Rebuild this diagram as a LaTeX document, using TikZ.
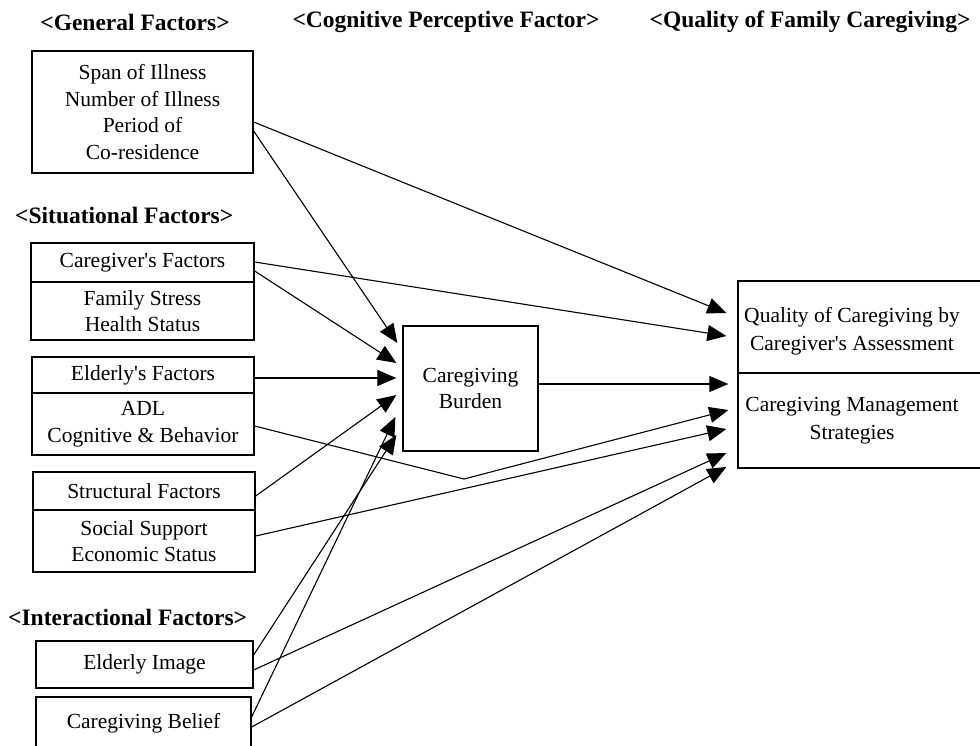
\documentclass[tikz,border=0pt]{standalone}
\usepackage{fontspec}
\setmainfont{Liberation Serif}
\usetikzlibrary{arrows.meta,calc}
\begin{document}
\begin{tikzpicture}[x=1pt,y=-1pt,
  box/.style={draw, line width=1.3pt, rectangle, inner sep=0pt, align=center, font=\fontsize{21.5}{26.7}\selectfont},
  plainbox/.style={draw, line width=1.3pt, rectangle, inner sep=0pt},
  lbl/.style={font=\fontsize{21.5}{28}\selectfont, align=center, inner sep=0pt},
  hdr/.style={font=\bfseries\fontsize{23.5}{26}\selectfont, inner sep=0pt},
  arr/.style={line width=1.1pt, -{Triangle[length=19pt,width=16pt]}}]
\fill[white] (0,0) rectangle (980,745);
\useasboundingbox (0,0) rectangle (980,745);

% headers
\node[hdr] (h1) at (135,22) {<General Factors>};
\node[hdr] (h2) at (446,22) {<Cognitive Perceptive Factor>};
\node[hdr] (h3) at (810,22) {<Quality of Family Caregiving>};
\node[hdr, anchor=west] (h4) at (15,215) {<Situational Factors>};
\node[hdr, anchor=west] (h5) at (8,617) {<Interactional Factors>};

% left boxes
\node[box, minimum width=221pt, minimum height=122pt] (gen) at (142.5,112) {Span of Illness\\Number of Illness\\Period of\\Co-residence};
\node[box, minimum width=223pt, minimum height=39pt] (cgtop) at (142.5,262.5) {Caregiver\textquotesingle s Factors};
\node[box, minimum width=223pt, minimum height=58pt] (cgbot) at (142.5,311) {Family Stress\\Health Status};
\node[box, minimum width=222pt, minimum height=36pt] (eltop) at (143,375) {Elderly\textquotesingle s Factors};
\node[box, minimum width=222pt, minimum height=62pt] (elbot) at (143,424) {ADL\\Cognitive \& Behavior};
\node[box, minimum width=222pt, minimum height=38pt] (sttop) at (144,491) {Structural Factors};
\node[box, minimum width=222pt, minimum height=62pt] (stbot) at (144,541) {Social Support\\Economic Status};
\node[box, minimum width=217pt, minimum height=47pt] (img) at (144.5,664.5) {Elderly Image};
\node[box, minimum width=215pt, minimum height=52pt] (bel) at (143.5,723) {Caregiving Belief};

% middle box
\node[box, minimum width=135pt, minimum height=125pt] (burden) at (470.5,388.5) {Caregiving\\Burden};

% right box
\node[plainbox, minimum width=260pt, minimum height=92pt] (qtop) at (868,327) {};
\node[plainbox, minimum width=260pt, minimum height=95pt] (qbot) at (868,420.5) {};
\node[lbl] (qtopt) at (852,331) {Quality of Caregiving by\\Caregiver\textquotesingle s Assessment};
\node[lbl] (qbott) at (852,421) {Caregiving Management\\Strategies};

\coordinate (kink) at (464,479);

% arrows
\draw[arr] ($(gen.east)+(0,10)$) -- ($(qtop.west)+(-11,-14)$);
\draw[arr] ($(gen.east)+(0,19)$) -- ($(burden.west)+(-5,-45.5)$);
\draw[arr] ($(cgtop.east)+(0,-0.5)$) -- ($(qtop.west)+(-11,9)$);
\draw[arr] ($(cgtop.east)+(0,8.5)$) -- ($(burden.west)+(-6,-25.5)$);
\draw[arr] ($(eltop.east)+(0,3)$) -- ($(burden.west)+(-6,-10.5)$);
\draw[arr] ($(sttop.east)+(0,5)$) -- ($(burden.west)+(-6,6.5)$);
\draw[arr] ($(elbot.east)+(0,2)$) -- (kink) -- ($(qbot.west)+(-9,-10.5)$);
\draw[arr] ($(stbot.east)+(0,-5)$) -- ($(qbot.west)+(-11,8.5)$);
\draw[arr] ($(img.east)+(0,5.5)$) -- ($(qbot.west)+(-11,32.5)$);
\draw[arr] ($(bel.east)+(0,4)$) -- ($(qbot.west)+(-11,46.5)$);
\draw[arr] ($(img.east)+(0,-9.5)$) -- ($(burden.west)+(-6,46.5)$);
\draw[arr] ($(bel.east)+(0,-6)$) -- ($(burden.west)+(-7,28.5)$);
\draw[arr] ($(burden.east)+(0,-4.5)$) -- ($(qbot.west)+(-9,-36.5)$);
\end{tikzpicture}
\end{document}
